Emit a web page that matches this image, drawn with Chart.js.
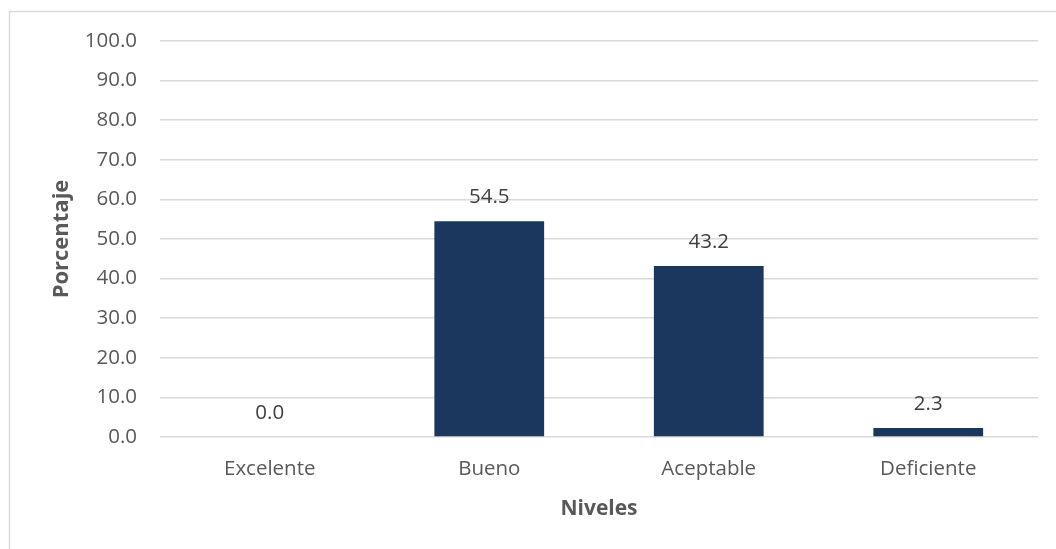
<!DOCTYPE html>
<html>
<head>
<meta charset="utf-8">
<script src="https://cdn.jsdelivr.net/npm/chart.js@4/dist/chart.umd.min.js"></script>
<style>
  html, body { margin: 0; padding: 0; background: #fff; }
  #wrap { width: 1056px; height: 549px; position: relative; }
</style>
</head>
<body>
<div id="wrap"><canvas id="nivelesChart"></canvas></div>
<script>
const niveles = ["Excelente", "Bueno", "Aceptable", "Deficiente"];
const porcentajes = [0.0, 54.5, 43.2, 2.3];
const yTicks = [0, 10, 20, 30, 40, 50, 60, 70, 80, 90, 100];

const FONT = "'Open Sans', 'Noto Sans', sans-serif";

// marco gris del área del gráfico (solo lados superior e izquierdo visibles)
const chartFrame = {
  id: "chartFrame",
  beforeDraw(chart) {
    const ctx = chart.ctx;
    ctx.save();
    ctx.strokeStyle = "#d9d9d9";
    ctx.lineWidth = 1.5;
    ctx.beginPath();
    ctx.moveTo(9.5, chart.height);
    ctx.lineTo(9.5, 11.5);
    ctx.lineTo(chart.width, 11.5);
    ctx.stroke();
    ctx.restore();
  },
};

// etiquetas de valor encima de cada barra
const valueLabels = {
  id: "valueLabels",
  afterDatasetsDraw(chart) {
    const ctx = chart.ctx;
    const meta = chart.getDatasetMeta(0);
    ctx.save();
    ctx.font = "20.5px " + FONT;
    ctx.fillStyle = "#404040";
    ctx.textAlign = "center";
    ctx.textBaseline = "middle";
    meta.data.forEach((bar, i) => {
      ctx.fillText(porcentajes[i].toFixed(1), bar.x, bar.y - 24);
    });
    ctx.restore();
  },
};

new Chart(document.getElementById("nivelesChart"), {
  type: "bar",
  data: {
    labels: niveles,
    datasets: [
      {
        data: porcentajes,
        backgroundColor: "#1b375e",
        categoryPercentage: 1.0,
        barPercentage: 0.5,
      },
    ],
  },
  options: {
    responsive: true,
    maintainAspectRatio: false,
    animation: false,
    devicePixelRatio: 1,
    layout: { padding: { left: 40, right: 18, top: 41, bottom: 0 } },
    plugins: {
      legend: { display: false },
      tooltip: { enabled: false },
    },
    scales: {
      x: {
        grid: { display: false, drawTicks: false },
        border: { display: false },
        ticks: {
          color: "#595959",
          font: { family: FONT, size: 20.5 },
          padding: 20,
        },
        title: {
          display: true,
          text: "Niveles",
          color: "#595959",
          font: { family: FONT, size: 21, weight: "bold" },
          padding: { top: 0, bottom: 27 },
        },
        afterFit(scale) {
          scale.height = 112;
        },
      },
      y: {
        min: 0,
        max: 100,
        afterBuildTicks(scale) {
          scale.ticks = yTicks.map((v) => ({ value: v }));
        },
        grid: { color: "#d9d9d9", lineWidth: 1.5, drawTicks: false },
        border: { display: false },
        ticks: {
          color: "#595959",
          font: { family: FONT, size: 20.5 },
          padding: 23,
          callback: (v) => Number(v).toFixed(1),
        },
        title: {
          display: true,
          text: "Porcentaje",
          color: "#595959",
          font: { family: FONT, size: 22, weight: "bold" },
          padding: { top: 9, bottom: 0 },
        },
        afterFit(scale) {
          scale.width = 120;
        },
      },
    },
  },
  plugins: [chartFrame, valueLabels],
});
</script>
</body>
</html>
